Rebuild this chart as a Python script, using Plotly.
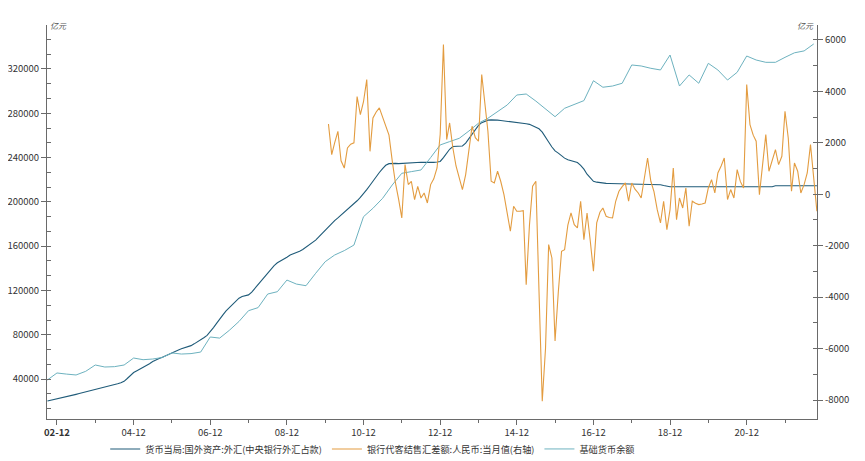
import pandas as pd
import plotly.graph_objects as go

# ---------------- data ----------------
# 货币当局:国外资产:外汇(中央银行外汇占款), monthly, 2002-09 .. 2022-10 (亿元)
fx_start = "2002-09-01"
fx_reserve = [
    20200, 20800, 21400, 22100,
    23000, 23600, 24200, 24800, 25500, 26200, 26900, 27600, 28400, 29200, 30100, 30800,
    31300, 31900, 32600, 33500, 34300, 35000, 35800, 36700, 38000, 40500, 43200, 45900,
    47500, 49000, 50500, 52000, 53800, 55800, 57500, 58500, 59800, 61200, 62700, 64000,
    65200, 66300, 67300, 68200, 69000, 70200, 71800, 73500, 75300, 77300, 79500, 82500,
    86500, 90500, 94500, 98000, 101500, 104500, 107500, 110500, 113000, 114500, 115300, 116000,
    118500, 122000, 126000, 129500, 133000, 136500, 139500, 142500, 145000, 146500, 148000, 150000,
    152000, 153000, 154000, 155500, 157000, 159000, 161000, 163000, 165500, 168500, 171500, 175000,
    178000, 180500, 183000, 185500, 188000, 190500, 193000, 195500, 198000, 201000, 204000, 207000,
    211000, 215000, 219000, 223000, 226500, 230000, 233000, 234500, 235000, 234800, 234500, 234700,
    235000, 235500, 235500, 236000, 236000, 235800, 235700, 235600, 235600, 235700, 236000, 236500,
    240000, 244000, 247500, 250000, 250200, 250400, 250500, 253000, 257000, 261000, 265000, 269000,
    271500, 273000, 273800, 274000, 274100, 273800, 273500, 273200, 272800, 272400, 272000, 271700,
    271400, 271000, 270500, 270000, 268500, 267500, 266000, 263000, 259000, 254000, 249500, 246000,
    244000, 241500, 239500, 238000, 237000, 236300, 235500, 233000, 229500, 225000, 221500, 218500,
    217800, 217200, 216900, 216700, 216600, 216500, 216400, 216300, 216200, 216100, 216000, 216000,
    216000, 216000, 216000, 216000, 216000, 215900, 215900, 215800, 215500, 214800, 214000, 213700,
    213600, 213600, 213600, 213700, 213700, 213700, 213700, 213700, 213700, 213700, 213700, 213700,
    213700, 213700, 213700, 213700, 213700, 213700, 213700, 213700, 213700, 213700, 213700, 213700,
    213700, 213700, 213700, 213700, 213700, 213700, 213700, 213700, 214500, 214600, 214600, 214600,
    214600, 214600, 214600, 214600, 214600, 214600, 214600, 214600, 214600, 214600,
]

# 银行代客结售汇差额:人民币:当月值, monthly, 2010-01 .. 2022-10 (亿元, right axis)
settle_start = "2010-01-01"
settlement = [
    2735, 1544, 2000, 2450, 1300, 1020, 1800, 1950, 2000, 3800, 3100, 3600,
    4460, 1670, 2970, 3200, 3360, 3000, 2600, 2300, 1300, 450, -200, -920,
    1155, 380, 506, -206, 311, -144, 51, -338, 377, 600, 1023, 2322,
    5823, 2128, 2774, 1801, 1100, 600, 183, 766, 1700, 2645, 2200, 2062,
    4656, 3489, 2451, 506, 440, 895, 506, -13, -790, -1439, -467, -661,
    -661, -635, -3513, -1200, 311, 506, -3773, -8052, -6000, -1957, -2477, -5707,
    -3800, -2217, -2153, -1200, -727, -1180, -1310, -272, -1762, -727, -1828, -2995,
    -1115, -700, -532, -856, -900, -921, -272, 117, 300, 440, -272, 440,
    200, 51, -144, 600, 1412, 506, 100, -600, -1115, -272, -1373, -596,
    1023, -985, -144, -532, 245, -1245, -272, -350, -402, -380, -338, 245,
    571, 51, 829, 1100, 1412, -206, 183, -144, 960, 500, 245, 4267,
    2711, 2300, 2062, -13, 1023, 2322, 895, 1350, 1739, 1155, 1478, 3229,
    2190, 117, 1218, 895, 51, 377, 829, 1933, 700, -661,
]

# 基础货币余额, quarterly, 2002-09 .. 2022-09 (亿元)
base_start = "2002-09-01"
base_money = [
    39200, 45500,
    44500, 43700, 47000, 52700,
    50900, 51200, 52700, 59000,
    57500, 58100, 59500, 63600,
    62600, 63000, 64400, 78000,
    77000, 84000, 92000, 101750,
    104500, 116800, 118900, 129400,
    125800, 124300, 135500, 146000,
    152000, 156000, 161000, 186600,
    194200, 203200, 215250, 225800,
    227300, 228800, 240000, 251400,
    254400, 257400, 264000, 271000,
    275500, 281500, 287500, 296500,
    297400, 291000, 284000, 276900,
    284500, 288000, 291400, 309400,
    303500, 304600, 307100, 323600,
    322700, 320600, 319100, 332600,
    304600, 314600, 307100, 325100,
    319100, 310000, 317000, 331700,
    328100, 326000, 326000, 330500,
    334600, 336300, 342600,
]

names = ["货币当局:国外资产:外汇(中央银行外汇占款)",
         "银行代客结售汇差额:人民币:当月值(右轴)",
         "基础货币余额"]

x_tick_dates = ["2002-12-01", "2004-12-01", "2006-12-01", "2008-12-01", "2010-12-01",
                "2012-12-01", "2014-12-01", "2016-12-01", "2018-12-01", "2020-12-01"]
x_tick_labels = ["<b>02-12</b>", "04-12", "06-12", "08-12", "10-12",
                 "12-12", "14-12", "16-12", "18-12", "20-12"]
x_minor_dates = ["2003-12-01", "2005-12-01", "2007-12-01", "2009-12-01", "2011-12-01",
                 "2013-12-01", "2015-12-01", "2017-12-01", "2019-12-01", "2021-12-01"]
y_left_ticks = [40000, 80000, 120000, 160000, 200000, 240000, 280000, 320000]
y_right_ticks = [-8000, -6000, -4000, -2000, 0, 2000, 4000, 6000]
unit_label = "亿元"

# ---------------- figure ----------------
fx_dates = pd.date_range(fx_start, periods=len(fx_reserve), freq="MS")
settle_dates = pd.date_range(settle_start, periods=len(settlement), freq="MS")
base_dates = pd.date_range(base_start, periods=len(base_money), freq="3MS")

C_DARK = "#1f5b79"
C_ORANGE = "#e39c40"
C_LIGHT = "#6db2bf"
AX = "#6a6a6a"
FONT = "Noto Sans CJK SC"

fig = go.Figure()
fig.add_trace(go.Scatter(x=fx_dates, y=fx_reserve, mode="lines", name=names[0],
                         line=dict(color=C_DARK, width=1.1)))
fig.add_trace(go.Scatter(x=settle_dates, y=settlement, mode="lines", name=names[1],
                         line=dict(color=C_ORANGE, width=1.1), yaxis="y2"))
fig.add_trace(go.Scatter(x=base_dates, y=base_money, mode="lines", name=names[2],
                         line=dict(color=C_LIGHT, width=1.0)))

tickfont = dict(family=FONT, size=9.5, color="#333333")

# page body adds an 8px margin, so the figure is 857x453 inside the 865x461 window
fig.update_layout(
    width=857, height=453,
    margin=dict(l=39, r=48, t=17, b=42, autoexpand=False),
    paper_bgcolor="white", plot_bgcolor="white",
    font=dict(family=FONT, size=9.5, color="#333333"),
    showlegend=True,
    legend=dict(orientation="h", x=0.423, xanchor="center", y=-0.076, yanchor="middle",
                font=dict(family=FONT, size=9.2, color="#333333"),
                itemwidth=30, bgcolor="rgba(0,0,0,0)"),
    xaxis=dict(type="date", range=["2002-08-28", "2022-10-02"], automargin=False,
               showline=True, linecolor=AX, linewidth=1, showgrid=False, zeroline=False,
               tickmode="array", tickvals=x_tick_dates, ticktext=x_tick_labels,
               ticks="outside", ticklen=5, tickcolor=AX, tickwidth=1, tickfont=tickfont,
               minor=dict(tickvals=x_minor_dates, ticks="outside", ticklen=3,
                          tickcolor=AX, showgrid=False)),
    yaxis=dict(range=[3950, 359700], automargin=False, showline=True, linecolor=AX, linewidth=1,
               showgrid=False, zeroline=False,
               tickmode="array", tickvals=y_left_ticks,
               ticktext=[str(v) for v in y_left_ticks],
               ticks="outside", ticklen=5, tickcolor=AX, tickfont=tickfont,
               minor=dict(tickmode="linear", tick0=0, dtick=40000 / 3, ticks="inside",
                          ticklen=4, tickcolor=AX, showgrid=False)),
    yaxis2=dict(range=[-8739, 6583], automargin=False, overlaying="y", side="right", anchor="x",
                showline=True, linecolor=AX, linewidth=1, showgrid=False, zeroline=False,
                tickmode="array", tickvals=y_right_ticks,
                ticktext=[str(v) for v in y_right_ticks],
                ticks="outside", ticklen=5, tickcolor=AX, tickfont=tickfont,
                minor=dict(tickmode="linear", tick0=0, dtick=1000, ticks="inside",
                           ticklen=4, tickcolor=AX, showgrid=False)),
    annotations=[
        dict(text="<i>" + unit_label + "</i>", xref="paper", yref="paper", x=0, y=1,
             xanchor="left", yanchor="middle", xshift=1, showarrow=False,
             font=dict(family=FONT, size=8, color="#555555")),
        dict(text="<i>" + unit_label + "</i>", xref="paper", yref="paper", x=1, y=1,
             xanchor="right", yanchor="middle", xshift=-1, showarrow=False,
             font=dict(family=FONT, size=8, color="#555555")),
    ],
)

fig.write_html("out.html")
